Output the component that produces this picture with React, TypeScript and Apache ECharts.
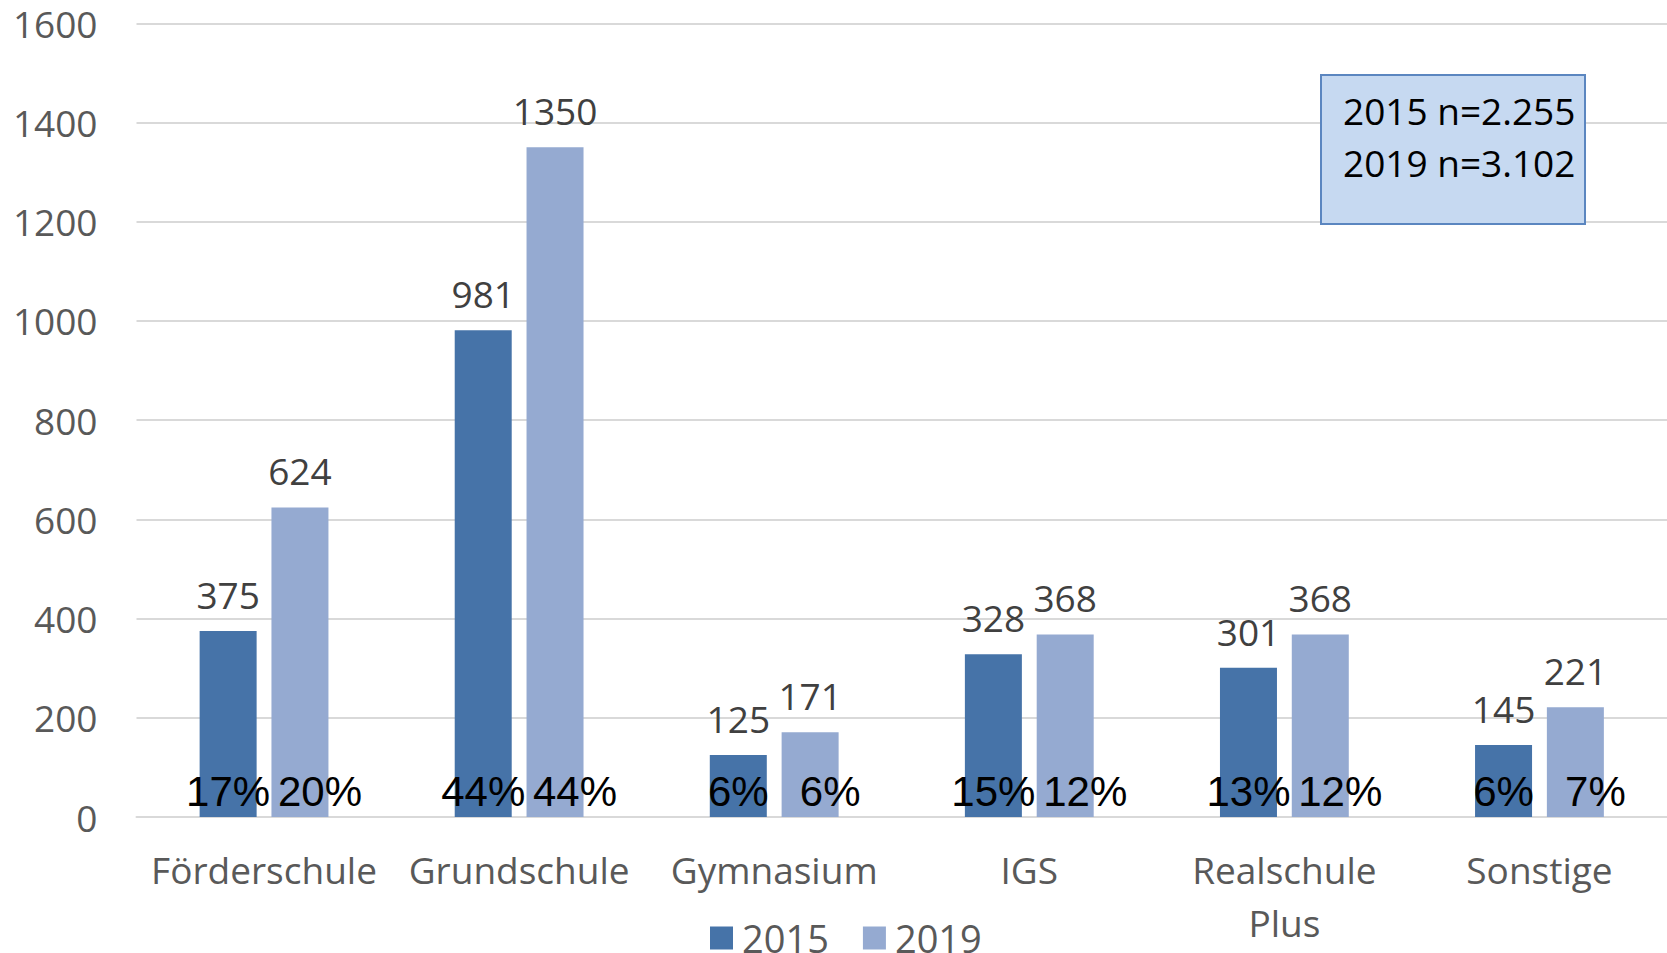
import React, { useEffect, useRef } from "react";
import * as echarts from "echarts";

const categories = ["Förderschule", "Grundschule", "Gymnasium", "IGS", "Realschule\nPlus", "Sonstige"];
const values2015 = [375, 981, 125, 328, 301, 145];
const values2019 = [624, 1350, 171, 368, 368, 221];
const pct2015 = ["17%", "44%", "6%", "15%", "13%", "6%"];
const pct2019 = ["20%", "44%", "6%", "12%", "12%", "7%"];
const yTicks = { min: 0, max: 1600, interval: 200 };
const noteLines = ["2015 n=2.255", "2019 n=3.102"];

const FONT = "'Open Sans', 'Noto Sans', sans-serif";
const C2015 = "#4673A8";
const C2019 = "#95AAD1";

export default function App() {
  const ref = useRef<HTMLDivElement>(null);
  useEffect(() => {
    if (!ref.current) return;
    const chart = echarts.init(ref.current, null, { renderer: "svg" });
    const barCommon = { barWidth: 57, barGap: "26%" };
    const pctLabel = (arr: string[], dx: number) => ({
      show: true,
      position: "insideBottom",
      distance: 5,
      offset: [dx, 0],
      formatter: (p: any) => arr[p.dataIndex],
      fontFamily: "'Liberation Sans', Arial, sans-serif",
      fontSize: 42,
      color: "#000000",
    });
    const valLabel = {
      show: true,
      position: "top",
      distance: 18,
      fontFamily: FONT,
      fontSize: 37,
      color: "#404040",
    };
    chart.setOption({
      animation: false,
      backgroundColor: "#ffffff",
      grid: { left: 136.5, right: 0, top: 23.3, bottom: 136, containLabel: false },
      legend: {
        data: ["2015", "2019"],
        left: 705,
        top: 914,
        itemWidth: 23,
        itemHeight: 23,
        itemGap: 34,
        icon: "rect",
        textStyle: { fontFamily: FONT, fontSize: 38, color: "#595959", padding: [0, 0, 0, 4] },
      },
      xAxis: [
        {
          type: "category",
          data: categories,
          axisLine: { show: true, lineStyle: { color: "#D9D9D9", width: 2 } },
          axisTick: { show: false },
          axisLabel: {
            fontFamily: FONT,
            fontSize: 37,
            color: "#595959",
            margin: 26,
            lineHeight: 53,
            interval: 0,
          },
        },
        {
          type: "category",
          data: categories,
          show: false,
        },
      ],
      yAxis: {
        type: "value",
        min: yTicks.min,
        max: yTicks.max,
        interval: yTicks.interval,
        axisLine: { show: false },
        axisTick: { show: false },
        splitLine: { lineStyle: { color: "#D9D9D9", width: 2 } },
        axisLabel: {
          fontFamily: FONT,
          fontSize: 37,
          color: "#595959",
          margin: 39,
          formatter: (v: number) => String(v),
        },
      },
      series: [
        {
          name: "2015",
          type: "bar",
          data: values2015,
          ...barCommon,
          itemStyle: { color: C2015 },
          label: valLabel,
        },
        {
          name: "2019",
          type: "bar",
          data: values2019,
          ...barCommon,
          itemStyle: { color: C2019 },
          label: valLabel,
        },
        {
          name: "Anteil 2015",
          type: "bar",
          xAxisIndex: 1,
          data: values2015,
          ...barCommon,
          silent: true,
          z: 10,
          itemStyle: { color: "rgba(0,0,0,0)" },
          label: pctLabel(pct2015, 0),
        },
        {
          name: "Anteil 2019",
          type: "bar",
          xAxisIndex: 1,
          data: values2019,
          ...barCommon,
          silent: true,
          z: 10,
          itemStyle: { color: "rgba(0,0,0,0)" },
          label: pctLabel(pct2019, 20),
        },
      ],
      graphic: [
        {
          type: "rect",
          shape: { x: 1321, y: 75, width: 264, height: 149 },
          style: { fill: "#C6D9F1", stroke: "#5B86C0", lineWidth: 2 },
          z: 20,
        },
        {
          type: "text",
          x: 1343,
          y: 84,
          z: 21,
          style: {
            text: noteLines.join("\n"),
            fontFamily: FONT,
            fontSize: 37,
            lineHeight: 52,
            fill: "#000000",
            verticalAlign: "top",
            align: "left",
          },
        },
      ],
    });
    return () => chart.dispose();
  }, []);
  return (
    <div
      ref={ref}
      style={{ position: "fixed", left: 0, top: 0, width: 1667, height: 953 }}
    />
  );
}
